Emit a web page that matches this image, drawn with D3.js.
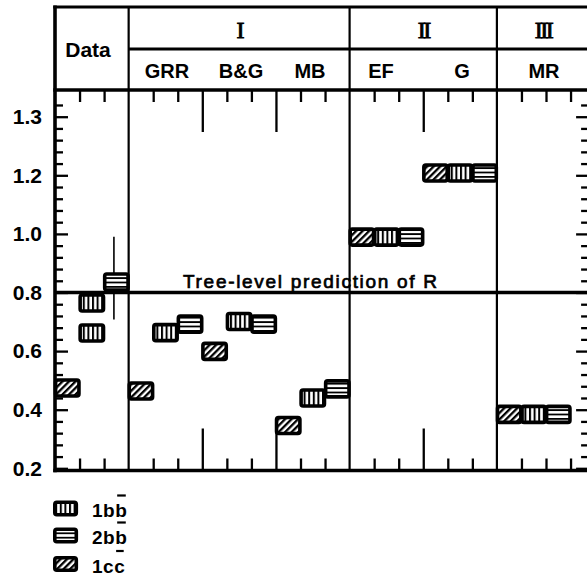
<!DOCTYPE html>
<html>
<head>
<meta charset="utf-8">
<script src="https://cdn.jsdelivr.net/npm/d3@7"></script>
<style>
  body { margin: 0; background: #fff; }
  svg { display: block; font-family: "Liberation Sans", Arial, sans-serif; }
  text { fill: #000; }
</style>
</head>
<body>
<svg id="chart" width="587" height="576"></svg>
<script>
// groups along the x axis, each one is 3 column units wide (cc, 1bb, 2bb)
var groupNames = ["Data", "GRR", "B&G", "MB", "EF", "G", "MR"];
var groupStart = [0, 3, 6, 9, 12, 15, 18];
var panelNames = ["I", "II", "III"];
var panelStart = [3, 12, 18];
var panelEnd = [12, 18, 22];

// values (R)
var oneCC = [0.474, 0.464, 0.599, 0.346, 0.989, 1.208, 0.384];
var oneBB = [0.764, 0.663, 0.701, 0.440, 0.989, 1.208, 0.384];
var oneBBextra = [0.662];          // second "1bb" point in the Data column
var twoBB = [0.836, 0.692, 0.692, 0.471, 0.989, 1.208, 0.384];
var twoBBerr = [[0.708, 0.990]];   // error bar, Data column only

var treeLevel = 0.8;
var yTickValues = [0.2, 0.4, 0.6, 0.8, 1.0, 1.2, 1.4];
var yTickLabels = ["0.2", "0.4", "0.6", "0.8", "1.0", "1.2", "1.3"];
var legendNames = [["1b", "b"], ["2b", "b"], ["1c", "c"]];
var legendFill = ["vbar", "hbar", "hatch"];

var svg = d3.select("#chart");

var x = d3.scaleLinear().domain([0, 22]).range([55, 55 + 22 * 24.55]);
var y = d3.scaleLinear().domain([0.2, 1.4]).range([468.3, 116.7]);

var headTop = 7, headMid = 49, plotTop = 90, plotBottom = 470.5;
var left = x(0), right = x(22);

// ---- fill patterns
var defs = svg.append("defs");
var p = defs.append("pattern").attr("id", "vbar").attr("patternUnits", "userSpaceOnUse")
    .attr("width", 4.6).attr("height", 4);
p.append("rect").attr("width", 4.6).attr("height", 4).attr("fill", "#fff");
p.append("rect").attr("width", 2).attr("height", 4).attr("fill", "#000");

p = defs.append("pattern").attr("id", "hbar").attr("patternUnits", "userSpaceOnUse")
    .attr("width", 4).attr("height", 4.4);
p.append("rect").attr("width", 4).attr("height", 4.4).attr("fill", "#fff");
p.append("rect").attr("width", 4).attr("height", 1.8).attr("fill", "#000");

p = defs.append("pattern").attr("id", "hatch").attr("patternUnits", "userSpaceOnUse")
    .attr("width", 4.6).attr("height", 4.6).attr("patternTransform", "rotate(45)");
p.append("rect").attr("width", 4.6).attr("height", 4.6).attr("fill", "#fff");
p.append("rect").attr("width", 2.3).attr("height", 4.6).attr("fill", "#000");

// ---- axes ticks
var minorY = d3.range(0, 32).map(function (i) { return +(0.2 + i * 0.04).toFixed(2); })
    .filter(function (v) { return yTickValues.indexOf(v) < 0; });

function styleAxis(g) {
    g.select(".domain").remove();
    g.selectAll(".tick line").attr("stroke", "#000").attr("stroke-width", 2.3);
}

svg.append("g").attr("transform", "translate(" + left + ",0)")
    .call(d3.axisLeft(y).tickValues(minorY).tickSize(-8).tickFormat(""))
    .call(styleAxis);
svg.append("g").attr("transform", "translate(" + left + ",0)")
    .call(d3.axisLeft(y).tickValues(yTickValues).tickSize(-13).tickPadding(13)
        .tickFormat(function (d, i) { return yTickLabels[i]; }))
    .call(styleAxis)
    .selectAll("text")
    .attr("font-size", 21).attr("font-weight", "bold")
    .attr("font-family", "Liberation Sans, Arial, sans-serif");

svg.append("g").attr("transform", "translate(" + right + ",0)")
    .call(d3.axisRight(y).tickValues(minorY).tickSize(-14).tickFormat(""))
    .call(styleAxis);
svg.append("g").attr("transform", "translate(" + right + ",0)")
    .call(d3.axisRight(y).tickValues(yTickValues).tickSize(-19).tickFormat(""))
    .call(styleAxis);

var minorX = [1, 2, 4, 5, 7, 8, 10, 11, 13, 14, 16, 17, 19, 20, 21];
var longX = [6, 9, 15];
[[d3.axisTop, plotTop], [d3.axisBottom, plotBottom]].forEach(function (a) {
    svg.append("g").attr("transform", "translate(0," + a[1] + ")")
        .call(a[0](x).tickValues(minorX).tickSize(-12).tickFormat(""))
        .call(styleAxis);
    svg.append("g").attr("transform", "translate(0," + a[1] + ")")
        .call(a[0](x).tickValues(longX).tickSize(-42).tickFormat(""))
        .call(styleAxis);
});

// ---- frame
function hline(yy, x1, x2, w) {
    svg.append("line").attr("x1", x1).attr("x2", x2).attr("y1", yy).attr("y2", yy)
        .attr("stroke", "#000").attr("stroke-width", w);
}
function vline(xx, y1, y2, w) {
    svg.append("line").attr("x1", xx).attr("x2", xx).attr("y1", y1).attr("y2", y2)
        .attr("stroke", "#000").attr("stroke-width", w);
}
hline(headTop, left - 1.7, right, 3.2);
hline(headMid, x(3), right, 3.2);
hline(plotTop, left - 1.7, right, 3.4);
hline(plotBottom, left - 1.7, right, 3.6);
hline(y(treeLevel), left, right, 3.4);
vline(left, headTop - 1.5, plotBottom + 1.7, 3.6);
vline(right, headTop, plotBottom, 3);
[3, 12, 18].forEach(function (u) { vline(x(u), headTop, plotBottom, 2.2); });

// ---- header text
svg.append("text").attr("x", 88).attr("y", 57).attr("text-anchor", "middle")
    .attr("font-size", 21).attr("font-weight", "bold").text("Data");

panelNames.forEach(function (n, i) {
    var cx = i === 2 ? 543 : (x(panelStart[i]) + x(panelEnd[i])) / 2;
    svg.append("text").attr("x", cx).attr("y", 37.5).attr("text-anchor", "middle")
        .style("font-family", "'Liberation Serif', 'Times New Roman', serif")
        .attr("font-size", 24).attr("stroke", "#000").attr("stroke-width", 0.9)
        .attr("letter-spacing", -2.5).text(n);
});

var subX = [0, 167, 241, 310, 381, 462, 544];
groupNames.forEach(function (n, i) {
    if (i === 0) return;
    svg.append("text").attr("x", subX[i]).attr("y", 78).attr("text-anchor", "middle")
        .attr("font-size", 20).attr("font-weight", "bold").text(n);
});

svg.append("text").attr("x", 183).attr("y", 288)
    .attr("font-size", 19).attr("stroke", "#000").attr("stroke-width", 0.7)
    .attr("textLength", 254).attr("lengthAdjust", "spacing")
    .text("Tree-level prediction of R");

// ---- error bar
twoBBerr.forEach(function (e, i) {
    var cx = x(groupStart[i] + 2.4);
    vline(cx, y(e[1]), y(e[0]), 1.6);
});

// ---- boxes
var boxH = 16;
function box(u, v, fill) {
    svg.append("rect")
        .attr("x", x(u) + 0.6).attr("width", x(u + 1) - x(u) - 1.2)
        .attr("y", y(v) - boxH / 2).attr("height", boxH)
        .attr("rx", 2).attr("fill", "url(#" + fill + ")")
        .attr("stroke", "#000").attr("stroke-width", 3.6);
}
groupStart.forEach(function (g, i) {
    box(g, oneCC[i], "hatch");
    box(g + 1, oneBB[i], "vbar");
    box(g + 2, twoBB[i], "hbar");
});
oneBBextra.forEach(function (v, i) { box(groupStart[i] + 1, v, "vbar"); });

// ---- legend
var legY = [508.5, 535.5, 564];
legendNames.forEach(function (n, i) {
    svg.append("rect").attr("x", 54.8).attr("width", 21.5)
        .attr("y", legY[i] - 6.3).attr("height", 12.6).attr("rx", 2)
        .attr("fill", "url(#" + legendFill[i] + ")")
        .attr("stroke", "#000").attr("stroke-width", 3.6);
    var t = svg.append("text").attr("x", 92).attr("y", legY[i] + 8.5)
        .attr("font-size", 19).attr("font-weight", "bold")
        .attr("letter-spacing", 0.5).text(n[0] + n[1]);
    var node = t.node();
    var sx = node.getStartPositionOfChar(2).x;
    var w = node.getSubStringLength(2, 1);
    svg.append("line").attr("x1", sx + 2).attr("x2", sx + w - 1.5)
        .attr("y1", legY[i] - 13).attr("y2", legY[i] - 13)
        .attr("stroke", "#000").attr("stroke-width", 2.2);
});
</script>
</body>
</html>
